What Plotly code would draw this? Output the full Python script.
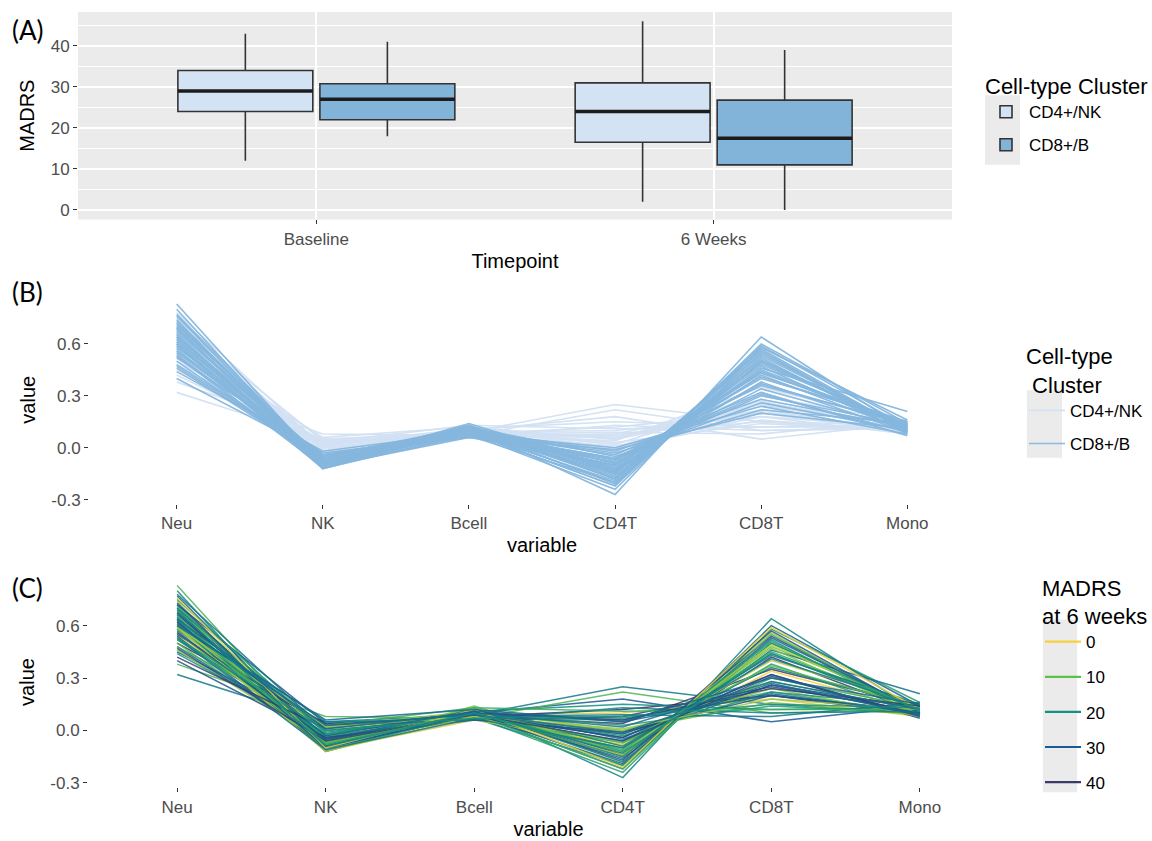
import plotly.graph_objects as go
from plotly.colors import sample_colorscale

# ---------------- data ----------------
timepoints = ["Baseline", "6 Weeks"]
clusters = ["CD4+/NK", "CD8+/B"]
# box summaries (MADRS) per cluster, ordered as timepoints
box_q1 = {"CD4+/NK": [24.0, 16.5], "CD8+/B": [22.0, 11.0]}
box_median = {"CD4+/NK": [29.0, 24.0], "CD8+/B": [27.0, 17.5]}
box_q3 = {"CD4+/NK": [34.0, 31.0], "CD8+/B": [30.8, 26.8]}
box_low = {"CD4+/NK": [12.0, 2.0], "CD8+/B": [18.0, 0.0]}
box_high = {"CD4+/NK": [43.0, 46.0], "CD8+/B": [41.0, 39.0]}

variables = ["Neu", "NK", "Bcell", "CD4T", "CD8T", "Mono"]
neu = [0.83, 0.45, 0.80, 0.62, 0.77, 0.74, 0.32, 0.72, 0.70, 0.58,
       0.69, 0.67, 0.38, 0.65, 0.64, 0.66, 0.62, 0.60, 0.50, 0.58,
       0.57, 0.68, 0.55, 0.54, 0.52, 0.52, 0.50, 0.70, 0.48, 0.46,
       0.72, 0.44, 0.40, 0.55, 0.60, 0.66, 0.75, 0.71, 0.56, 0.78,
       0.63, 0.68, 0.48, 0.59, 0.73, 0.56, 0.61, 0.53, 0.63, 0.76,
       0.42, 0.59, 0.47, 0.67, 0.53, 0.64, 0.61, 0.60, 0.64, 0.69]
nk = [-0.10, 0.02, -0.12, -0.03, -0.08, -0.11, 0.05, -0.09, -0.06, 0.00,
      -0.10, -0.07, 0.08, -0.12, -0.05, -0.04, -0.08, -0.11, 0.04, -0.04,
      -0.09, 0.02, -0.06, -0.10, -0.02, -0.03, -0.08, -0.01, -0.05, -0.07,
      0.04, -0.02, -0.04, 0.03, -0.09, -0.11, -0.02, -0.07, -0.08, 0.00,
      -0.10, -0.06, 0.03, -0.12, -0.09, -0.05, -0.07, -0.11, 0.05, -0.10,
      0.01, 0.02, -0.06, -0.03, 0.00, -0.08, 0.03, 0.06, 0.01, -0.09]
bcell = [0.10, 0.10, 0.12, 0.07, 0.09, 0.13, 0.09, 0.08, 0.11, 0.09,
         0.14, 0.07, 0.07, 0.10, 0.09, 0.08, 0.12, 0.06, 0.08, 0.10,
         0.08, 0.11, 0.11, 0.09, 0.11, 0.07, 0.10, 0.09, 0.12, 0.08,
         0.07, 0.09, 0.06, 0.06, 0.11, 0.09, 0.10, 0.10, 0.13, 0.08,
         0.09, 0.12, 0.13, 0.08, 0.11, 0.09, 0.10, 0.07, 0.06, 0.12,
         0.10, 0.08, 0.09, 0.11, 0.07, 0.10, 0.09, 0.12, 0.10, 0.10]
cd4t = [-0.20, 0.18, -0.27, 0.06, -0.22, -0.18, 0.25, -0.24, -0.15, 0.10,
        -0.12, -0.20, 0.22, -0.16, -0.10, 0.04, -0.14, -0.08, 0.12, -0.12,
        -0.06, 0.00, -0.09, -0.04, 0.15, -0.07, -0.02, 0.07, -0.05, 0.00,
        -0.02, -0.03, -0.01, 0.08, -0.18, -0.22, 0.03, -0.11, -0.13, 0.09,
        -0.19, -0.09, 0.11, -0.14, -0.17, -0.04, -0.07, -0.10, 0.13, -0.21,
        0.06, 0.01, -0.06, 0.05, 0.08, -0.15, -0.01, 0.05, 0.02, -0.13]
cd8t = [0.50, 0.05, 0.64, 0.22, 0.60, 0.56, 0.15, 0.58, 0.54, 0.18,
        0.48, 0.52, 0.10, 0.46, 0.44, 0.35, 0.42, 0.40, 0.20, 0.38,
        0.36, 0.16, 0.34, 0.32, 0.12, 0.30, 0.28, 0.20, 0.26, 0.24,
        0.26, 0.22, 0.20, 0.25, 0.50, 0.55, 0.14, 0.45, 0.47, 0.08,
        0.53, 0.41, 0.12, 0.49, 0.57, 0.32, 0.37, 0.43, 0.10, 0.59,
        0.24, 0.18, 0.31, 0.21, 0.15, 0.51, 0.27, 0.30, 0.28, 0.44]
mono = [0.12, 0.14, 0.10, 0.10, 0.14, 0.09, 0.10, 0.16, 0.11, 0.08,
        0.13, 0.08, 0.12, 0.21, 0.12, 0.14, 0.10, 0.15, 0.09, 0.09,
        0.14, 0.09, 0.11, 0.07, 0.13, 0.13, 0.12, 0.11, 0.10, 0.08,
        0.13, 0.14, 0.11, 0.11, 0.12, 0.10, 0.10, 0.13, 0.09, 0.16,
        0.11, 0.14, 0.12, 0.12, 0.10, 0.08, 0.13, 0.15, 0.11, 0.12,
        0.14, 0.12, 0.09, 0.10, 0.13, 0.11, 0.09, 0.15, 0.12, 0.12]
sample_cluster = [
    "CD8+/B", "CD4+/NK", "CD8+/B", "CD4+/NK", "CD8+/B", "CD8+/B", "CD4+/NK", "CD8+/B", "CD8+/B", "CD4+/NK",
    "CD8+/B", "CD8+/B", "CD4+/NK", "CD8+/B", "CD8+/B", "CD4+/NK", "CD8+/B", "CD8+/B", "CD4+/NK", "CD8+/B",
    "CD8+/B", "CD4+/NK", "CD8+/B", "CD8+/B", "CD4+/NK", "CD8+/B", "CD8+/B", "CD4+/NK", "CD8+/B", "CD8+/B",
    "CD4+/NK", "CD8+/B", "CD8+/B", "CD4+/NK", "CD8+/B", "CD8+/B", "CD4+/NK", "CD8+/B", "CD8+/B", "CD4+/NK",
    "CD8+/B", "CD8+/B", "CD4+/NK", "CD8+/B", "CD8+/B", "CD4+/NK", "CD8+/B", "CD8+/B", "CD4+/NK", "CD8+/B",
    "CD4+/NK", "CD4+/NK", "CD8+/B", "CD4+/NK", "CD4+/NK", "CD8+/B", "CD4+/NK", "CD4+/NK", "CD4+/NK", "CD8+/B"]
madrs6 = [12, 30, 22, 16, 28, 5, 24, 17, 35, 2,
          9, 20, 12, 26, 14, 40, 39, 3, 46, 18,
          24, 8, 0, 31, 20, 15, 11, 22, 27, 7,
          31, 19, 33, 35, 21, 13, 18, 16, 8, 25,
          29, 23, 14, 4, 32, 33, 10, 25, 23, 1,
          38, 6, 36, 29, 19, 17, 27, 28, 26, 21]
madrs_legend_values = [0, 10, 20, 30, 40]

A_yticks = [0, 10, 20, 30, 40]
A_yminor = [5, 15, 25, 35, 45]
BC_yticks = [-0.3, 0.0, 0.3, 0.6]
BC_yticklabels = ["-0.3", "0.0", "0.3", "0.6"]

# ---------------- styles ----------------
W, H = 1152, 841
def px(x): return x / W
def py(y): return 1 - y / H

FONT = "Liberation Sans, Arial, sans-serif"
TICK_FONT = dict(family=FONT, size=17, color="#4D4D4D")
TITLE_FONT = dict(family=FONT, size=20, color="#000000")
LEG_TITLE_FONT = dict(family=FONT, size=22, color="#000000")
box_fill = {"CD4+/NK": "#D4E3F4", "CD8+/B": "#82B4DA"}
line_col = {"CD4+/NK": "#D2E1F3", "CD8+/B": "#86B7DE"}
mscale = [[0.0, "#F7D13D"], [10/46, "#5DBF4C"], [20/46, "#13907F"],
          [30/46, "#1B5B95"], [40/46, "#3B3B6B"], [1.0, "#3E2F63"]]
mmin, mmax = min(madrs6), max(madrs6)
def mcolor(v):
    return sample_colorscale(mscale, [(v - mmin) / (mmax - mmin)])[0]

fig = go.Figure()

# ---------------- panel A: boxes ----------------
for c in clusters:
    fig.add_trace(go.Box(
        x=timepoints, q1=box_q1[c], median=box_median[c], q3=box_q3[c],
        lowerfence=box_low[c], upperfence=box_high[c],
        name=c, fillcolor=box_fill[c], line=dict(color="#333333", width=1.6),
        whiskerwidth=0, boxpoints=False, xaxis="x", yaxis="y",
        offsetgroup=c, legend="legend", legendgroup="A" + c, hoverinfo="skip"))
# thicker median bars (ggplot-style), drawn in the same box slots
for c in clusters:
    fig.add_trace(go.Box(
        x=timepoints, q1=box_median[c], median=box_median[c], q3=box_median[c],
        lowerfence=box_median[c], upperfence=box_median[c],
        name=c, fillcolor="rgba(0,0,0,0)", line=dict(color="#1C1C1C", width=3.6),
        whiskerwidth=0, boxpoints=False, xaxis="x", yaxis="y",
        offsetgroup=c, showlegend=False, hoverinfo="skip"))

# ---------------- panel B: parallel coordinates by cluster ----------------
rows = list(zip(neu, nk, bcell, cd4t, cd8t, mono))
for c in clusters:
    first = True
    for i, r in enumerate(rows):
        if sample_cluster[i] != c:
            continue
        fig.add_trace(go.Scatter(
            x=variables, y=list(r), mode="lines",
            line=dict(color=line_col[c], width=1.6), opacity=0.95,
            name=c, legendgroup="B" + c, showlegend=first,
            legend="legend2", xaxis="x2", yaxis="y2", hoverinfo="skip"))
        first = False

# ---------------- panel C: parallel coordinates by MADRS ----------------
for i, r in enumerate(rows):
    fig.add_trace(go.Scatter(
        x=variables, y=list(r), mode="lines",
        line=dict(color=mcolor(madrs6[i]), width=1.5), opacity=0.85,
        showlegend=False, xaxis="x3", yaxis="y3", hoverinfo="skip"))
for v in madrs_legend_values:
    fig.add_trace(go.Scatter(
        x=[None], y=[None], mode="lines", line=dict(color=mcolor(v), width=2.2),
        name=str(v), legend="legend3", legendgroup="C" + str(v),
        xaxis="x3", yaxis="y3"))

# ---------------- axes ----------------
tick_common = dict(ticks="outside", ticklen=4, tickwidth=1.1, tickcolor="#333333",
                   tickfont=TICK_FONT, showline=False, zeroline=False)

fig.update_layout(
    xaxis=dict(domain=[px(78), px(952)], anchor="y", type="category",
               categoryorder="array", categoryarray=timepoints, range=[-0.6, 1.6],
               showgrid=True, gridcolor="white", gridwidth=1.5,
               title=dict(text="Timepoint", font=TITLE_FONT, standoff=6), **tick_common),
    yaxis=dict(domain=[py(221), py(12)], anchor="x", range=[-2.3, 48.3],
               tickvals=A_yticks, showgrid=True, gridcolor="white", gridwidth=1.5,
               minor=dict(tickvals=A_yminor, showgrid=True, gridcolor="white", gridwidth=0.7, ticks=""),
               title=dict(text="MADRS", font=TITLE_FONT, standoff=10), **tick_common),
    xaxis2=dict(domain=[px(89), px(995)], anchor="y2", type="category",
                categoryorder="array", categoryarray=variables, range=[-0.6, 5.6],
                showgrid=False,
                title=dict(text="variable", font=TITLE_FONT, standoff=5), **tick_common),
    yaxis2=dict(domain=[py(507.7), py(297.5)], anchor="x2", range=[-0.325, 0.88],
                tickvals=BC_yticks, ticktext=BC_yticklabels, showgrid=False,
                title=dict(text="value", font=TITLE_FONT, standoff=10), **tick_common),
    xaxis3=dict(domain=[px(88), px(1009)], anchor="y3", type="category",
                categoryorder="array", categoryarray=variables, range=[-0.6, 5.6],
                showgrid=False,
                title=dict(text="variable", font=TITLE_FONT, standoff=6), **tick_common),
    yaxis3=dict(domain=[py(792.9), py(580.9)], anchor="x3", range=[-0.325, 0.88],
                tickvals=BC_yticks, ticktext=BC_yticklabels, showgrid=False,
                title=dict(text="value", font=TITLE_FONT, standoff=10), **tick_common),
)

# grey panel background for A and grey legend key backgrounds
fig.add_shape(type="rect", xref="x domain", yref="y domain", x0=0, x1=1, y0=0, y1=1,
              fillcolor="#EBEBEB", line=dict(width=0), layer="below")
for (x0, x1, y0, y1) in [(985, 1020, 96, 166), (1027, 1062, 393, 461), (1043, 1077, 624, 798)]:
    fig.add_shape(type="rect", xref="paper", yref="paper",
                  x0=px(x0), x1=px(x1), y0=py(y1), y1=py(y0),
                  fillcolor="#EBEBEB", line=dict(width=0), layer="below")

legend_common = dict(xanchor="left", yanchor="top", bgcolor="rgba(0,0,0,0)",
                     font=dict(family=FONT, size=17, color="#000000"),
                     itemwidth=36)
fig.update_layout(
    legend=dict(x=px(983), y=py(66), title=dict(text="Cell-type Cluster", font=LEG_TITLE_FONT),
                tracegroupgap=8, **legend_common),
    legend2=dict(x=px(1024), y=py(338), title=dict(text="Cell-type<br>\u00a0Cluster", font=LEG_TITLE_FONT),
                 tracegroupgap=8, **legend_common),
    legend3=dict(x=px(1040), y=py(571), title=dict(text="MADRS<br>at 6 weeks", font=LEG_TITLE_FONT),
                 tracegroupgap=10, **legend_common),
)

# panel labels
for lab, yy in [("(A)", 30), ("(B)", 294), ("(C)", 592)]:
    fig.add_annotation(text=lab, x=px(10), y=py(yy), xref="paper", yref="paper",
                       xanchor="left", yanchor="middle", showarrow=False,
                       font=dict(family="Lato, Noto Sans, sans-serif", size=26, color="#000000"))

fig.update_layout(
    width=W, height=H, margin=dict(l=0, r=0, t=0, b=0),
    paper_bgcolor="white", plot_bgcolor="rgba(0,0,0,0)",
    boxmode="group", boxgap=0.285, boxgroupgap=0.05,
    font=dict(family=FONT),
)

fig.write_html("out.html", config={"displayModeBar": False},
               post_script="document.body.style.margin='0';")
